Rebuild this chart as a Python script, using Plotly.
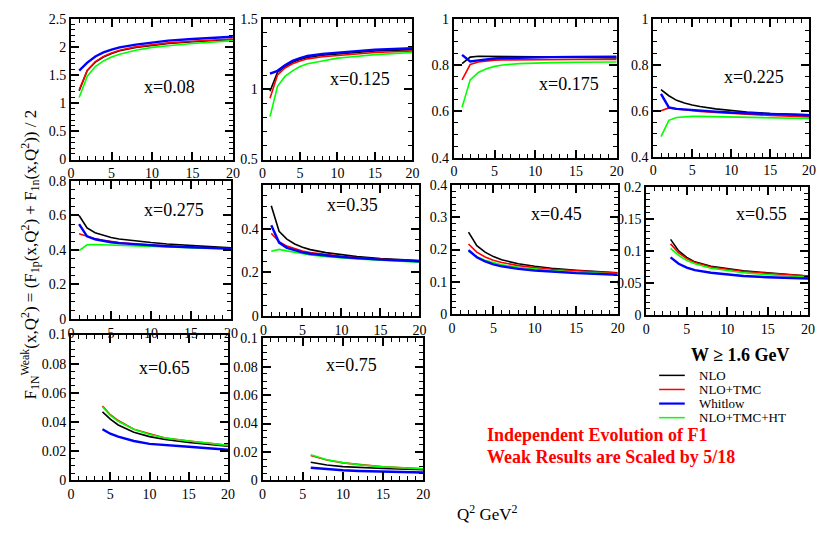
import plotly.graph_objects as go

# ---------------- data ----------------
names = ["NLO", "NLO+TMC", "Whitlow", "NLO+TMC+HT"]
colors = ["black", "red", "blue", "#00ff00"]

q2_a = [1, 2, 3, 4, 5, 6, 8, 10, 12, 15, 20]
q2_b = [2, 3, 4, 5, 6, 8, 10, 12, 15, 20]
q2_c = [3, 4, 5, 6, 8, 10, 12, 15, 20]
q2_d = [4, 5, 6, 8, 10, 12, 15, 20]
q2_e = [6, 8, 10, 12, 15, 20]

# x = 0.08
nlo_008 = [1.22, 1.58, 1.73, 1.82, 1.88, 1.93, 1.99, 2.03, 2.06, 2.09, 2.13]
tmc_008 = [1.24, 1.58, 1.74, 1.83, 1.89, 1.94, 2.00, 2.04, 2.07, 2.10, 2.14]
whi_008 = [1.58, 1.72, 1.83, 1.90, 1.95, 1.99, 2.04, 2.08, 2.11, 2.14, 2.18]
ht_008 = [1.10, 1.48, 1.65, 1.75, 1.82, 1.87, 1.94, 1.99, 2.02, 2.06, 2.11]
# x = 0.125
nlo_0125 = [0.985, 1.12, 1.16, 1.19, 1.21, 1.225, 1.24, 1.25, 1.26, 1.27, 1.28]
tmc_0125 = [0.935, 1.10, 1.15, 1.18, 1.20, 1.215, 1.23, 1.24, 1.25, 1.26, 1.27]
whi_0125 = [1.11, 1.13, 1.17, 1.20, 1.22, 1.235, 1.25, 1.26, 1.27, 1.28, 1.29]
ht_0125 = [0.805, 1.02, 1.09, 1.13, 1.16, 1.18, 1.20, 1.22, 1.23, 1.245, 1.26]
# x = 0.175
nlo_0175 = [0.806, 0.834, 0.838, 0.838, 0.838, 0.837, 0.836, 0.835, 0.834, 0.832, 0.830]
tmc_0175 = [0.736, 0.802, 0.813, 0.818, 0.821, 0.822, 0.823, 0.824, 0.824, 0.824, 0.824]
whi_0175 = [0.844, 0.815, 0.820, 0.825, 0.828, 0.830, 0.832, 0.833, 0.834, 0.835, 0.836]
ht_0175 = [0.617, 0.736, 0.768, 0.784, 0.794, 0.800, 0.806, 0.809, 0.810, 0.812, 0.813]
# x = 0.225
nlo_0225 = [0.692, 0.665, 0.645, 0.633, 0.625, 0.618, 0.608, 0.600, 0.594, 0.588, 0.582]
tmc_0225 = [0.600, 0.612, 0.607, 0.603, 0.600, 0.597, 0.592, 0.588, 0.584, 0.579, 0.573]
whi_0225 = [0.673, 0.614, 0.608, 0.605, 0.603, 0.600, 0.596, 0.592, 0.589, 0.585, 0.580]
ht_0225 = [0.487, 0.558, 0.570, 0.574, 0.575, 0.575, 0.574, 0.573, 0.571, 0.569, 0.566]
# x = 0.275
nlo_0275 = [0.600, 0.528, 0.500, 0.484, 0.472, 0.464, 0.452, 0.443, 0.435, 0.425, 0.412]
tmc_0275 = [0.494, 0.478, 0.465, 0.456, 0.449, 0.443, 0.435, 0.429, 0.423, 0.416, 0.407]
whi_0275 = [0.550, 0.479, 0.462, 0.452, 0.445, 0.440, 0.433, 0.427, 0.422, 0.416, 0.408]
ht_0275 = [0.396, 0.430, 0.432, 0.431, 0.430, 0.428, 0.424, 0.421, 0.418, 0.413, 0.404]
# x = 0.35
nlo_035 = [0.504, 0.388, 0.352, 0.330, 0.315, 0.304, 0.290, 0.280, 0.272, 0.263, 0.254]
tmc_035 = [0.378, 0.340, 0.320, 0.307, 0.297, 0.290, 0.280, 0.273, 0.267, 0.260, 0.252]
whi_035 = [0.415, 0.336, 0.312, 0.300, 0.291, 0.285, 0.276, 0.270, 0.265, 0.258, 0.251]
ht_035 = [0.296, 0.305, 0.298, 0.291, 0.285, 0.280, 0.272, 0.266, 0.261, 0.255, 0.246]
# x = 0.45
nlo_045 = [0.254, 0.212, 0.192, 0.178, 0.168, 0.156, 0.148, 0.142, 0.136, 0.128]
tmc_045 = [0.217, 0.192, 0.177, 0.167, 0.160, 0.150, 0.144, 0.139, 0.134, 0.127]
whi_045 = [0.198, 0.176, 0.163, 0.154, 0.148, 0.140, 0.135, 0.131, 0.127, 0.122]
ht_045 = [0.194, 0.178, 0.167, 0.159, 0.153, 0.145, 0.139, 0.135, 0.130, 0.124]
# x = 0.55
nlo_055 = [0.118, 0.100, 0.090, 0.083, 0.076, 0.072, 0.069, 0.066, 0.061]
tmc_055 = [0.111, 0.097, 0.088, 0.082, 0.075, 0.071, 0.068, 0.065, 0.061]
whi_055 = [0.090, 0.080, 0.074, 0.070, 0.066, 0.063, 0.061, 0.059, 0.057]
ht_055 = [0.104, 0.093, 0.085, 0.080, 0.073, 0.069, 0.066, 0.063, 0.059]
# x = 0.65
nlo_065 = [0.047, 0.042, 0.038, 0.033, 0.030, 0.028, 0.026, 0.0235]
tmc_065 = [0.051, 0.045, 0.041, 0.035, 0.032, 0.029, 0.027, 0.024]
whi_065 = [0.035, 0.032, 0.030, 0.027, 0.025, 0.024, 0.023, 0.021]
ht_065 = [0.0505, 0.0445, 0.0405, 0.035, 0.0315, 0.029, 0.027, 0.024]
# x = 0.75
nlo_075 = [0.0128, 0.0108, 0.0097, 0.0090, 0.0083, 0.0075]
tmc_075 = [0.0175, 0.0143, 0.0123, 0.0110, 0.0095, 0.0082]
whi_075 = [0.0089, 0.0078, 0.0071, 0.0066, 0.0061, 0.0055]
ht_075 = [0.0180, 0.0145, 0.0125, 0.0110, 0.0095, 0.0082]

panel_labels = ["x=0.08", "x=0.125", "x=0.175", "x=0.225", "x=0.275",
                "x=0.35", "x=0.45", "x=0.55", "x=0.65", "x=0.75"]

panels = [
    (q2_a, [nlo_008, tmc_008, whi_008, ht_008]),
    (q2_a, [nlo_0125, tmc_0125, whi_0125, ht_0125]),
    (q2_a, [nlo_0175, tmc_0175, whi_0175, ht_0175]),
    (q2_a, [nlo_0225, tmc_0225, whi_0225, ht_0225]),
    (q2_a, [nlo_0275, tmc_0275, whi_0275, ht_0275]),
    (q2_a, [nlo_035, tmc_035, whi_035, ht_035]),
    (q2_b, [nlo_045, tmc_045, whi_045, ht_045]),
    (q2_c, [nlo_055, tmc_055, whi_055, ht_055]),
    (q2_d, [nlo_065, tmc_065, whi_065, ht_065]),
    (q2_e, [nlo_075, tmc_075, whi_075, ht_075]),
]

# ---------------- layout / style ----------------
W, H = 824, 535
# pixel boxes: left, right, top, bottom
boxes = [
    (68, 232, 12, 157), (262, 414, 12, 157), (456, 621, 12, 155), (658, 816, 12, 154),
    (68, 230, 179, 321), (263, 421, 183, 318), (454, 622, 183, 316), (651, 815, 185, 317),
    (68, 227, 337, 487), (262, 425, 341, 487),
]
yranges = [(0, 2.5), (0.5, 1.5), (0.4, 1), (0.4, 1), (0, 0.8), (0, 0.6),
           (0, 0.4), (0, 0.2), (0, 0.1), (0, 0.1)]
ymajor = [0.5, 0.5, 0.2, 0.2, 0.2, 0.2, 0.1, 0.05, 0.02, 0.02]
yminor = [0.1, 0.1, 0.05, 0.05, 0.05, 0.05, 0.02, 0.01, 0.005, 0.005]
label_pos = [(168, 82), (361, 74), (573, 79), (760, 72), (172, 209),
             (353, 204), (560, 213), (768, 213), (163, 371), (352, 368)]

serif = "Liberation Serif, Times New Roman, serif"
draw_order = [0, 1, 3, 2]
widths = [1.6, 1.6, 2.4, 1.6]

fig = go.Figure()
annotations = []
for i, (q2, series) in enumerate(panels):
    xa = "x" if i == 0 else f"x{i+1}"
    ya = "y" if i == 0 else f"y{i+1}"
    for k in draw_order:
        fig.add_trace(go.Scatter(x=q2, y=series[k], mode="lines", name=names[k],
                                 line=dict(color=colors[k], width=widths[k]),
                                 xaxis=xa, yaxis=ya, showlegend=False))
    l, r, t, b = boxes[i]
    lo, hi = yranges[i]
    dt = ymajor[i]
    n = round((hi - lo) / dt)
    tv = [round(lo + j * dt, 4) for j in range(n + 1)]
    tt = [("%g" % v) for v in tv]
    if i == 5:
        tt[-1] = ""
    xkey = "xaxis" if i == 0 else f"xaxis{i+1}"
    ykey = "yaxis" if i == 0 else f"yaxis{i+1}"
    common = dict(showline=True, linewidth=2, linecolor="black", mirror="allticks",
                  ticks="inside", ticklen=8, tickwidth=1.5, tickcolor="black",
                  showgrid=False, zeroline=False,
                  tickfont=dict(family=serif, size=14, color="black"))
    fig.update_layout({
        xkey: dict(domain=[l / W, r / W], range=[0, 20], anchor=ya,
                   tickvals=[0, 5, 10, 15, 20],
                   minor=dict(dtick=1, ticks="inside", ticklen=4, tickwidth=1.2,
                              tickcolor="black", showgrid=False),
                   **common),
        ykey: dict(domain=[1 - b / H, 1 - t / H], range=[lo, hi], anchor=xa,
                   tickvals=tv, ticktext=tt,
                   minor=dict(dtick=yminor[i], tick0=lo, ticks="inside", ticklen=4,
                              tickwidth=1.2, tickcolor="black", showgrid=False),
                   **common),
    })
    px, py = label_pos[i]
    annotations.append(dict(text=panel_labels[i], x=px / W, y=1 - py / H,
                            xref="paper", yref="paper", showarrow=False,
                            xanchor="center", yanchor="middle",
                            font=dict(family=serif, size=18, color="black")))

# axis titles
annotations.append(dict(
    text="F<sub>1N</sub><sup>Weak</sup>(x,Q<sup>2</sup>) = (F<sub>1p</sub>(x,Q<sup>2</sup>) + F<sub>1n</sub>(x,Q<sup>2</sup>)) / 2",
    x=27 / W, y=1 - 255 / H, xref="paper", yref="paper", showarrow=False,
    textangle=-90, xanchor="center", yanchor="middle",
    font=dict(family=serif, size=17, color="black")))
annotations.append(dict(text="Q<sup>2</sup> GeV<sup>2</sup>", x=490 / W, y=1 - 521 / H,
                        xref="paper", yref="paper", showarrow=False,
                        xanchor="center", yanchor="middle",
                        font=dict(family=serif, size=17, color="black")))

# legend (manual)
annotations.append(dict(text="<b>W ≥ 1.6 GeV</b>", x=746 / W, y=1 - 358 / H,
                        xref="paper", yref="paper", showarrow=False,
                        xanchor="center", yanchor="middle",
                        font=dict(family=serif, size=18, color="black")))
shapes = []
leg_y = [379, 393.5, 408, 422.5]
for k in range(4):
    shapes.append(dict(type="line", xref="paper", yref="paper",
                       x0=664 / W, x1=690 / W, y0=1 - leg_y[k] / H, y1=1 - leg_y[k] / H,
                       line=dict(color=colors[k], width=2.2 if k == 2 else 1.5)))
    annotations.append(dict(text=names[k], x=703 / W, y=1 - leg_y[k] / H,
                            xref="paper", yref="paper", showarrow=False,
                            xanchor="left", yanchor="middle", borderpad=0,
                            font=dict(family=serif, size=13, color="black")))

annotations.append(dict(text="<b>Independent Evolution of F1</b>", x=488 / W, y=1 - 440 / H,
                        xref="paper", yref="paper", showarrow=False,
                        xanchor="left", yanchor="middle",
                        font=dict(family=serif, size=18, color="red")))
annotations.append(dict(text="<b>Weak Results are Scaled by 5/18</b>", x=488 / W, y=1 - 463 / H,
                        xref="paper", yref="paper", showarrow=False,
                        xanchor="left", yanchor="middle",
                        font=dict(family=serif, size=18, color="red")))

fig.update_layout(width=W, height=H, margin=dict(l=0, r=0, t=0, b=0),
                  paper_bgcolor="white", plot_bgcolor="white",
                  annotations=annotations, shapes=shapes, showlegend=False)

fig.write_html("out.html")
